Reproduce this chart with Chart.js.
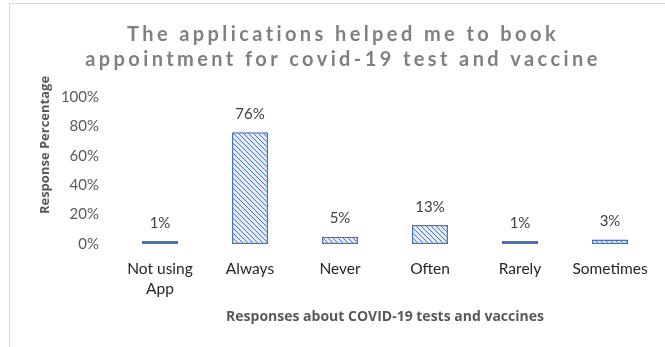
<!DOCTYPE html>
<html>
<head>
<meta charset="utf-8">
<script src="https://cdn.jsdelivr.net/npm/chart.js@4.4.1/dist/chart.umd.min.js"></script>
<style>
  html, body { margin: 0; padding: 0; background: #fff; }
  #wrap { width: 665px; height: 347px; position: relative; }
</style>
</head>
<body>
<div id="wrap"><canvas id="grafico"></canvas></div>
<script>
// dados do gráfico
const categorias = [['Not using', 'App'], 'Always', 'Never', 'Often', 'Rarely', 'Sometimes'];
const percentuais = [1, 76, 5, 13, 1, 3];
const marcasY = [0, 20, 40, 60, 80, 100];
const tituloLinhas = ['The applications helped me to book', 'appointment for covid-19 test and vaccine'];
const tituloY = 'Response Percentage';

const AZUL = '#4472C4';
const FONTE = 'Lato, "Open Sans", sans-serif';
const FONTE_NEGRITO = '"Open Sans", Lato, sans-serif';

// padrão de listras diagonais para as barras
function listras() {
  const c = document.createElement('canvas');
  c.width = 5; c.height = 5;
  const g = c.getContext('2d');
  g.fillStyle = '#e4ebf7';
  g.fillRect(0, 0, 5, 5);
  g.strokeStyle = AZUL;
  g.lineWidth = 1;
  g.beginPath();
  g.moveTo(-1, -1); g.lineTo(6, 6);
  g.moveTo(-1, 4); g.lineTo(1, 6);
  g.moveTo(4, -1); g.lineTo(6, 1);
  g.stroke();
  return g.createPattern(c, 'repeat');
}

// moldura cinza, títulos e rótulos de valor
const extras = {
  id: 'extras',
  beforeDraw(chart) {
    const ctx = chart.ctx;
    ctx.save();
    ctx.fillStyle = '#d9d9d9';
    ctx.fillRect(9, 3, 1, chart.height - 3);
    ctx.fillRect(9, 3, chart.width - 9, 1);
    ctx.restore();
  },
  afterDraw(chart) {
    const ctx = chart.ctx;
    ctx.save();
    ctx.fillStyle = '#808080';
    ctx.font = 'bold 20px ' + FONTE;
    ctx.letterSpacing = '3.4px';
    ctx.textAlign = 'center';
    ctx.textBaseline = 'middle';
    tituloLinhas.forEach((t, i) => ctx.fillText(t, 343, 35 + i * 25));
    ctx.restore();

    // título do eixo Y, girado
    ctx.save();
    ctx.fillStyle = '#595959';
    ctx.font = 'bold 13px ' + FONTE_NEGRITO;
    ctx.textAlign = 'center';
    ctx.textBaseline = 'middle';
    ctx.translate(45, 145);
    ctx.rotate(-Math.PI / 2);
    ctx.fillText(tituloY, 0, 0);
    ctx.restore();
  },
  afterDatasetsDraw(chart) {
    const ctx = chart.ctx;
    const meta = chart.getDatasetMeta(0);
    ctx.save();
    ctx.fillStyle = '#404040';
    ctx.font = '15px ' + FONTE;
    ctx.textAlign = 'center';
    ctx.textBaseline = 'middle';
    meta.data.forEach((bar, i) => {
      ctx.fillText(percentuais[i] + '%', bar.x, bar.y - 18);
    });
    ctx.restore();
  }
};

const ctx = document.getElementById('grafico').getContext('2d');
new Chart(ctx, {
  type: 'bar',
  data: {
    labels: categorias,
    datasets: [{
      data: percentuais,
      backgroundColor: listras(),
      borderColor: AZUL,
      borderWidth: 1.5,
      borderSkipped: false,
      minBarLength: 3,
      barPercentage: 0.4,
      categoryPercentage: 1
    }]
  },
  options: {
    responsive: true,
    maintainAspectRatio: false,
    animation: false,
    layout: { padding: { top: 97, left: 30, right: 10, bottom: 20 } },
    plugins: {
      legend: { display: false },
      tooltip: { enabled: false }
    },
    scales: {
      x: {
        grid: { display: false, drawTicks: false },
        border: { display: false },
        ticks: {
          color: '#262626',
          font: { family: FONTE, size: 15.5, lineHeight: 1.3 },
          padding: 15,
          maxRotation: 0
        },
        title: {
          display: true,
          text: 'Responses about COVID-19 tests and vaccines',
          color: '#595959',
          font: { family: FONTE_NEGRITO, size: 14, weight: 'bold' },
          padding: { top: 0, bottom: 2 }
        },
        afterFit: (s) => { s.height = 83; }
      },
      y: {
        min: 0,
        max: 100,
        afterBuildTicks: (s) => { s.ticks = marcasY.map(v => ({ value: v })); },
        grid: { display: false, drawTicks: false },
        border: { display: false },
        ticks: {
          color: '#595959',
          font: { family: FONTE, size: 15 },
          padding: 16,
          callback: (v) => v + '%'
        },
        afterFit: (s) => { s.width = 85; }
      }
    }
  },
  plugins: [extras]
});
</script>
</body>
</html>
